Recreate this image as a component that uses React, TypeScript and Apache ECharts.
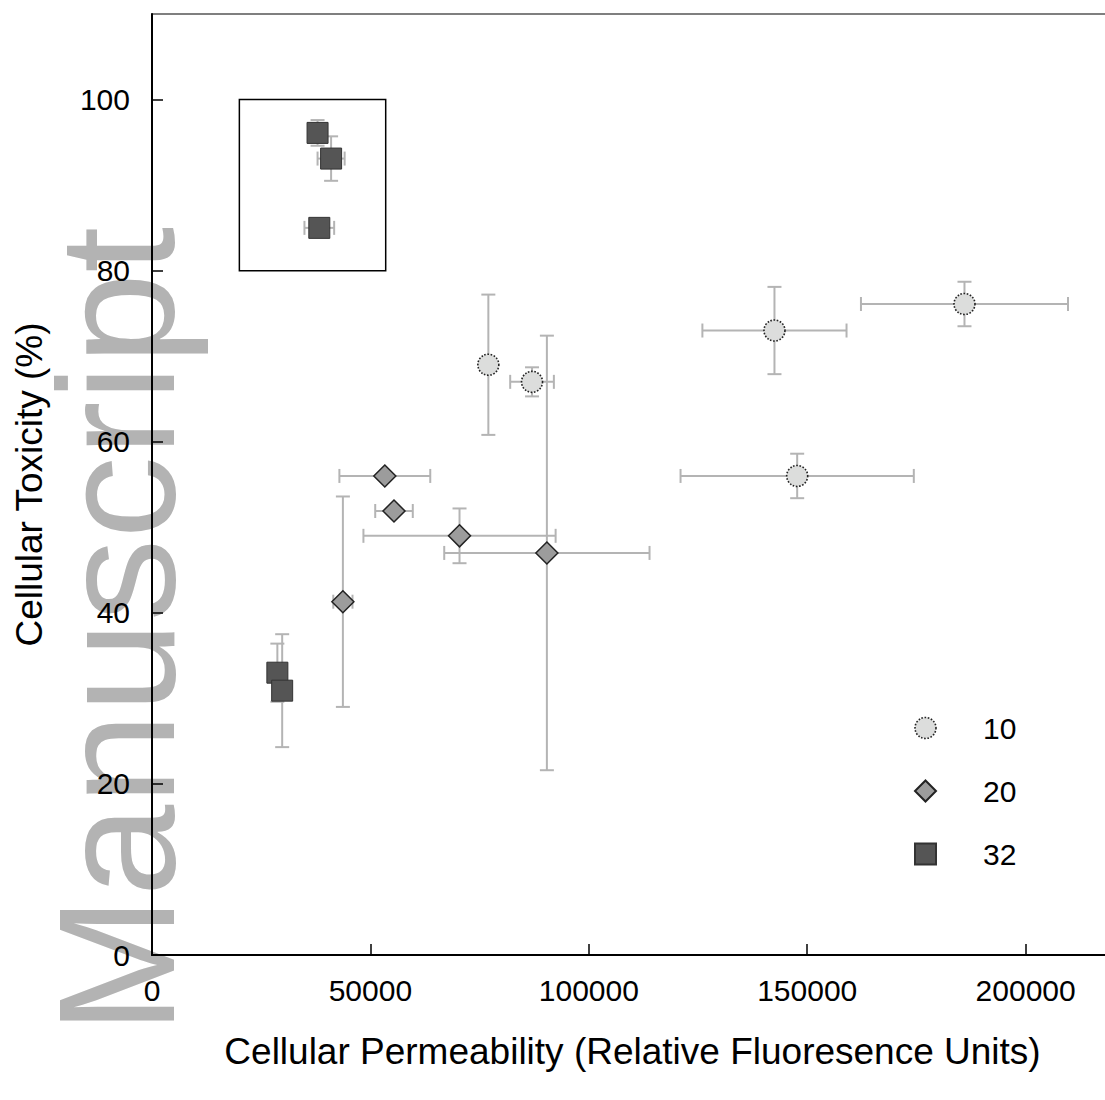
import React, { useEffect, useRef } from "react";
import * as echarts from "echarts";

// Legend / series names
const seriesNames = ["10", "20", "32"];

// Series "10" (circles)
const s10X = [77000, 87000, 142500, 186000, 147700];
const s10Y = [69.0, 67.0, 73.0, 76.1, 56.0];
const s10XErr = [0, 5000, 16500, 23700, 26700];
const s10YErr = [8.2, 1.7, 5.1, 2.6, 2.6];

// Series "20" (diamonds)
const s20X = [53300, 55400, 70400, 90400, 43700];
const s20Y = [56.0, 51.9, 49.0, 47.0, 41.3];
const s20XErr = [10400, 4300, 22000, 23500, 2200];
const s20YErr = [0, 0, 3.2, 25.4, 12.3];

// Series "32" (squares)
const s32X = [37900, 41000, 38300, 28700, 29800];
const s32Y = [96.1, 93.1, 85.0, 33.0, 30.9];
const s32XErr = [0, 3100, 3400, 0, 0];
const s32YErr = [1.5, 2.6, 0, 3.4, 6.6];

// Inset box (data coords)
const insetBox = { x0: 20000, x1: 53500, y0: 80, y1: 100 };

const xAxisMin = 0;
const xAxisMax = 220000;
const xAxisInterval = 50000;
const yAxisMin = 0;
const yAxisMax = 110;
const yAxisInterval = 20;

const xTitle = "Cellular Permeability (Relative Fluoresence Units)";
const yTitle = "Cellular Toxicity (%)";
const watermark = "Manuscript";

const FONT = "Liberation Sans";
const ERR_COLOR = "#b4b4b4";

function zipPts(xs: number[], ys: number[]) {
  return xs.map((x, i) => [x, ys[i]]);
}
function zipErr(xs: number[], ys: number[], xe: number[], ye: number[]) {
  return xs.map((x, i) => [x, ys[i], xe[i], ye[i]]);
}

function errRender(params: any, api: any) {
  const x = api.value(0);
  const y = api.value(1);
  const xe = api.value(2);
  const ye = api.value(3);
  const cap = 7;
  const style = { stroke: ERR_COLOR, lineWidth: 2 };
  const children: any[] = [];
  if (xe > 0) {
    const a = api.coord([x - xe, y]);
    const b = api.coord([x + xe, y]);
    children.push({ type: "line", shape: { x1: a[0], y1: a[1], x2: b[0], y2: b[1] }, style });
    children.push({ type: "line", shape: { x1: a[0], y1: a[1] - cap, x2: a[0], y2: a[1] + cap }, style });
    children.push({ type: "line", shape: { x1: b[0], y1: b[1] - cap, x2: b[0], y2: b[1] + cap }, style });
  }
  if (ye > 0) {
    const a = api.coord([x, y - ye]);
    const b = api.coord([x, y + ye]);
    children.push({ type: "line", shape: { x1: a[0], y1: a[1], x2: b[0], y2: b[1] }, style });
    children.push({ type: "line", shape: { x1: a[0] - cap, y1: a[1], x2: a[0] + cap, y2: a[1] }, style });
    children.push({ type: "line", shape: { x1: b[0] - cap, y1: b[1], x2: b[0] + cap, y2: b[1] }, style });
  }
  return { type: "group", children };
}

export default function App() {
  const ref = useRef<HTMLDivElement>(null);
  useEffect(() => {
    const chart = echarts.init(ref.current!, null, { renderer: "svg" });
    const option: any = {
      animation: false,
      backgroundColor: "#ffffff",
      graphic: [
        {
          type: "text",
          x: 117,
          y: 227,
          rotation: Math.PI / 2,
          z: -10,
          zlevel: 0,
          silent: true,
          style: {
            text: watermark,
            fontSize: 165,
            fontFamily: FONT,
            fill: "#b3b3b3",
            align: "right",
            verticalAlign: "middle",
            textAlign: "right",
            textVerticalAlign: "middle",
          },
        },
      ],
      grid: {
        left: 152,
        top: 14,
        bottom: 145,
        right: 7,
        show: true,
        borderColor: "#000",
        borderWidth: 1.2,
        backgroundColor: "transparent",
        z: 5,
      },
      legend: {
        data: [
          { name: seriesNames[0], itemStyle: { borderType: "dotted", borderColor: "#222", borderWidth: 1.6 } },
          { name: seriesNames[1] },
          { name: seriesNames[2] },
        ],
        orient: "vertical",
        left: 914,
        top: 713,
        padding: 0,
        itemWidth: 21,
        itemHeight: 21,
        itemGap: 33,
        textStyle: {
          fontSize: 30,
          fontFamily: FONT,
          color: "#000",
          lineHeight: 30,
          padding: [0, 0, 0, 42],
        },
      },
      xAxis: {
        type: "value",
        min: xAxisMin,
        max: xAxisMax,
        interval: xAxisInterval,
        name: xTitle,
        nameLocation: "middle",
        nameGap: 78,
        z: 5,
        nameTextStyle: { fontSize: 37, fontFamily: FONT, color: "#000" },
        axisLine: { show: true, lineStyle: { color: "#000", width: 2 } },
        axisTick: { show: true, inside: true, length: 11, lineStyle: { color: "#000", width: 1.5 } },
        axisLabel: {
          fontSize: 30,
          fontFamily: FONT,
          color: "#000",
          margin: 20,
          showMaxLabel: false,
          formatter: (v: number) => String(v),
        },
        splitLine: { show: false },
      },
      yAxis: {
        type: "value",
        min: yAxisMin,
        max: yAxisMax,
        interval: yAxisInterval,
        name: yTitle,
        nameLocation: "middle",
        nameRotate: 90,
        nameGap: 104,
        z: 5,
        nameTextStyle: { fontSize: 37, fontFamily: FONT, color: "#000" },
        axisLine: { show: true, lineStyle: { color: "#000", width: 2 } },
        axisTick: { show: true, inside: true, length: 11, lineStyle: { color: "#000", width: 1.5 } },
        axisLabel: {
          fontSize: 30,
          fontFamily: FONT,
          color: "#000",
          margin: 22,
          showMaxLabel: false,
          formatter: (v: number) => String(v),
        },
        splitLine: { show: false },
      },
      series: [
        {
          name: "err10",
          type: "custom",
          renderItem: errRender,
          encode: { x: 0, y: 1 },
          data: zipErr(s10X, s10Y, s10XErr, s10YErr),
          z: 6,
          silent: true,
        },
        {
          name: "err20",
          type: "custom",
          renderItem: errRender,
          encode: { x: 0, y: 1 },
          data: zipErr(s20X, s20Y, s20XErr, s20YErr),
          z: 6,
          silent: true,
        },
        {
          name: "err32",
          type: "custom",
          renderItem: errRender,
          encode: { x: 0, y: 1 },
          data: zipErr(s32X, s32Y, s32XErr, s32YErr),
          z: 6,
          silent: true,
        },
        {
          name: seriesNames[0],
          type: "scatter",
          symbol: "circle",
          symbolSize: 21,
          data: zipPts(s10X, s10Y),
          z: 8,
          itemStyle: { color: "#dcdddc", borderColor: "#222", borderWidth: 1.6, borderType: "dotted", opacity: 1 },
          markArea: {
            silent: true,
            itemStyle: { color: "rgba(0,0,0,0)", borderColor: "#000", borderWidth: 1.5 },
            data: [[{ coord: [insetBox.x0, insetBox.y1] }, { coord: [insetBox.x1, insetBox.y0] }]],
          },
        },
        {
          name: seriesNames[1],
          type: "scatter",
          symbol: "diamond",
          symbolSize: 22,
          data: zipPts(s20X, s20Y),
          z: 8,
          itemStyle: { color: "#9c9c9c", borderColor: "#222", borderWidth: 1.5, opacity: 1 },
        },
        {
          name: seriesNames[2],
          type: "scatter",
          symbol: "rect",
          symbolSize: 21,
          data: zipPts(s32X, s32Y),
          z: 8,
          itemStyle: { color: "#555555", borderColor: "#333", borderWidth: 1, opacity: 1 },
        },
      ],
    };
    chart.setOption(option);
    return () => chart.dispose();
  }, []);
  return (
    <div
      style={{
        position: "absolute",
        left: 0,
        top: 0,
        width: 1105,
        height: 1100,
        overflow: "hidden",
        background: "#fff",
      }}
    >
      <div ref={ref} style={{ width: 1120, height: 1100 }} />
    </div>
  );
}
